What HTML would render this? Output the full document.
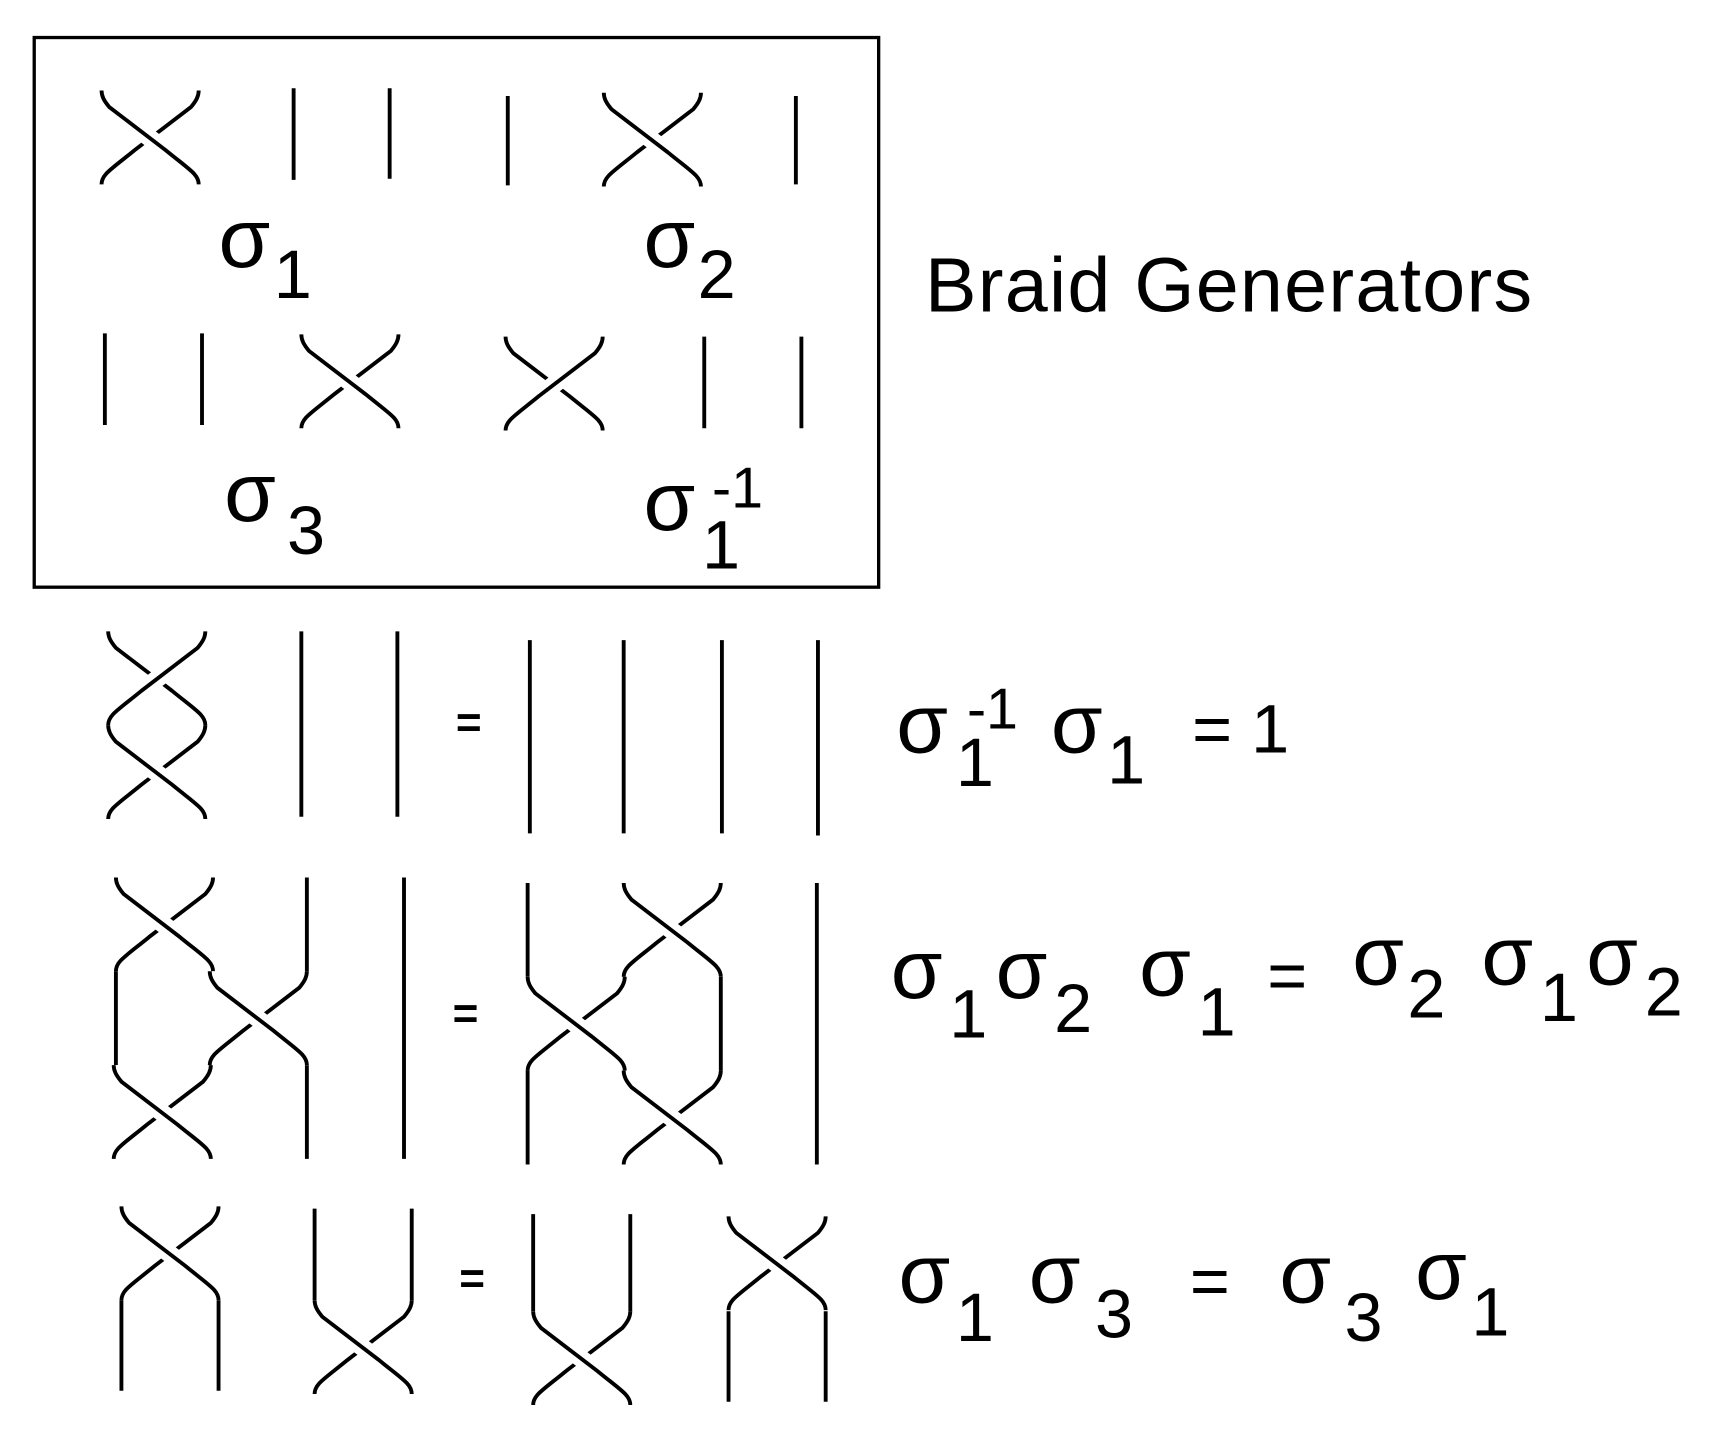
<!DOCTYPE html>
<html><head><meta charset="utf-8"><style>
html,body{margin:0;padding:0;background:#fff;}
svg{display:block;}
text{font-family:"Liberation Sans",Arial,sans-serif;fill:#000;}
</style></head><body>
<svg width="1722" height="1447" viewBox="0 0 1560 1311" preserveAspectRatio="none" xmlns="http://www.w3.org/2000/svg">
<defs>
<path id="a" d="M0,0 C0,5 2,9 7,15 L58,54 C80,72 88,76 88,85"/>
<path id="b" d="M88,0 C88,5 86,9 81,15 L30,54 C8,72 0,76 0,85"/>
<g id="p" fill="none">
<use href="#b" stroke="#000" stroke-width="3.5"/>
<use href="#a" stroke="#fff" stroke-width="16"/>
<use href="#a" stroke="#000" stroke-width="3.5"/>
</g>
<g id="n" fill="none">
<use href="#a" stroke="#000" stroke-width="3.5"/>
<use href="#b" stroke="#fff" stroke-width="16"/>
<use href="#b" stroke="#000" stroke-width="3.5"/>
</g>
</defs>
<rect x="31" y="34" width="765" height="498" fill="none" stroke="#000" stroke-width="3"/>
<g stroke="#000" stroke-width="3.5" fill="none">
<line x1="266" y1="80" x2="266" y2="163"/><line x1="353" y1="80" x2="353" y2="162"/>
<line x1="460" y1="87" x2="460" y2="168"/><line x1="721" y1="87" x2="721" y2="167"/>
<line x1="95" y1="302" x2="95" y2="385"/><line x1="183" y1="302" x2="183" y2="385"/>
<line x1="638" y1="305" x2="638" y2="388"/><line x1="726" y1="305" x2="726" y2="388"/>
<line x1="273" y1="572" x2="273" y2="740"/><line x1="360" y1="572" x2="360" y2="740"/>
<line x1="480" y1="580" x2="480" y2="755"/><line x1="565" y1="580" x2="565" y2="755"/>
<line x1="654" y1="580" x2="654" y2="755"/><line x1="741" y1="580" x2="741" y2="757"/>
<line x1="278" y1="795" x2="278" y2="880"/><line x1="366" y1="795" x2="366" y2="1050"/>
<line x1="105" y1="880" x2="105" y2="965"/><line x1="278" y1="965" x2="278" y2="1050"/>
<line x1="478" y1="800" x2="478" y2="885"/><line x1="740" y1="800" x2="740" y2="1055"/>
<line x1="653" y1="885" x2="653" y2="970"/><line x1="478" y1="970" x2="478" y2="1055"/>
<line x1="110" y1="1178" x2="110" y2="1260"/><line x1="198" y1="1178" x2="198" y2="1260"/>
<line x1="285" y1="1095" x2="285" y2="1178"/><line x1="373" y1="1095" x2="373" y2="1178"/>
<line x1="483" y1="1100" x2="483" y2="1188"/><line x1="571" y1="1100" x2="571" y2="1188"/>
<line x1="660" y1="1188" x2="660" y2="1270"/><line x1="748" y1="1188" x2="748" y2="1270"/>
</g>
<use href="#p" x="92" y="82"/><use href="#p" x="547" y="84"/>
<use href="#p" x="273" y="303"/><use href="#n" x="458" y="305"/>
<use href="#n" x="98" y="572"/><use href="#p" x="98" y="657"/>
<use href="#p" x="105" y="795"/><use href="#p" x="190" y="880"/><use href="#p" x="103" y="965"/>
<use href="#p" x="565" y="800"/><use href="#p" x="478" y="885"/><use href="#p" x="565" y="970"/>
<use href="#p" x="110" y="1093"/><use href="#p" x="285" y="1178"/>
<use href="#p" x="483" y="1188"/><use href="#p" x="660" y="1102"/>
<g font-size="76">
<text x="198" y="242">σ</text><text x="248" y="270" font-size="62">1</text>
<text x="583" y="242">σ</text><text x="632" y="270" font-size="62">2</text>
<text x="203" y="472">σ</text><text x="260" y="502" font-size="62">3</text>
<text x="583" y="480">σ</text><text x="636" y="515" font-size="62">1</text><text x="645" y="460" font-size="52">-1</text>
<text x="838" y="282" font-size="70" textLength="550">Braid Generators</text>
<text x="812" y="682">σ</text><text x="866" y="712" font-size="62">1</text><text x="876" y="660" font-size="52">-1</text>
<text x="952" y="682">σ</text><text x="1003" y="710" font-size="62">1</text><text x="1080" y="682" font-size="62">= 1</text>
<text x="807" y="904">σ</text><text x="860" y="940" font-size="62">1</text>
<text x="902" y="904">σ</text><text x="955" y="935" font-size="62">2</text>
<text x="1032" y="902">σ</text><text x="1085" y="938" font-size="62">1</text>
<text x="1148" y="905" font-size="62">=</text>
<text x="1225" y="892">σ</text><text x="1275" y="922" font-size="62">2</text>
<text x="1342" y="892">σ</text><text x="1395" y="925" font-size="62">1</text>
<text x="1437" y="892">σ</text><text x="1490" y="920" font-size="62">2</text>
<text x="814" y="1180">σ</text><text x="866" y="1215" font-size="62">1</text>
<text x="932" y="1180">σ</text><text x="992" y="1212" font-size="62">3</text>
<text x="1078" y="1182" font-size="62">=</text>
<text x="1159" y="1180">σ</text><text x="1218" y="1215" font-size="62">3</text>
<text x="1282" y="1177">σ</text><text x="1333" y="1210" font-size="62">1</text>
</g>
<g font-size="40" font-weight="bold">
<text x="413" y="668">=</text><text x="410" y="932">=</text><text x="416" y="1172">=</text>
</g>
</svg>
</body></html>
